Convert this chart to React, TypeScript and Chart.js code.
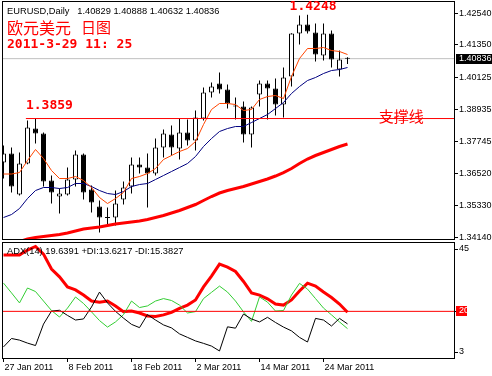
import React, { useEffect, useRef } from 'react';
import { Chart, registerables } from 'chart.js';

Chart.register(...registerables);

// ---------- texts ----------
const symbolTitle = 'EURUSD,Daily';
const chineseTitle = ['欧元美元', '日图'];
const timeStamp = '2011-3-29 11: 25';
const supportText = '支撑线';

// ---------- bars (trading days) ----------
const barDates = [
  '2011.01.27', '2011.01.28', '2011.01.31', '2011.02.01', '2011.02.02', '2011.02.03', '2011.02.04',
  '2011.02.07', '2011.02.08', '2011.02.09', '2011.02.10', '2011.02.11', '2011.02.14', '2011.02.15',
  '2011.02.16', '2011.02.17', '2011.02.18', '2011.02.21', '2011.02.22', '2011.02.23', '2011.02.24',
  '2011.02.25', '2011.02.28', '2011.03.01', '2011.03.02', '2011.03.03', '2011.03.04', '2011.03.07',
  '2011.03.08', '2011.03.09', '2011.03.10', '2011.03.11', '2011.03.14', '2011.03.15', '2011.03.16',
  '2011.03.17', '2011.03.18', '2011.03.21', '2011.03.22', '2011.03.23', '2011.03.24', '2011.03.25',
  '2011.03.28', '2011.03.29',
];

const openPrices = [
  1.36941, 1.37279, 1.35741, 1.36904, 1.38216, 1.38029, 1.36266, 1.35666, 1.35741, 1.36304, 1.37241,
  1.35929, 1.35291, 1.34879, 1.34879, 1.35554, 1.36041, 1.36866, 1.36754, 1.36529, 1.37504, 1.37991,
  1.37466, 1.38066, 1.37766, 1.38591, 1.39566, 1.39904, 1.39679, 1.39041, 1.39041, 1.37991, 1.39491,
  1.39904, 1.39716, 1.39116, 1.40166, 1.41779, 1.42116, 1.41816, 1.40954, 1.41779, 1.40429, 1.40829,
];
const highPrices = [
  1.37579, 1.37504, 1.37316, 1.38516, 1.38591, 1.38066, 1.36454, 1.35966, 1.36754, 1.37391, 1.37279,
  1.36079, 1.35516, 1.35254, 1.35891, 1.36229, 1.37129, 1.37129, 1.37279, 1.37841, 1.38179, 1.38329,
  1.38591, 1.38554, 1.38891, 1.39754, 1.39941, 1.40316, 1.39866, 1.39379, 1.39229, 1.39041, 1.40016,
  1.40016, 1.40091, 1.40504, 1.41790, 1.42454, 1.42480, 1.42154, 1.42154, 1.41891, 1.41141, 1.40888,
];
const lowPrices = [
  1.36341, 1.35816, 1.35704, 1.36880, 1.37654, 1.36041, 1.35404, 1.35029, 1.35704, 1.36041, 1.35554,
  1.35066, 1.34316, 1.34541, 1.34579, 1.35366, 1.35779, 1.36529, 1.35254, 1.36454, 1.37129, 1.37204,
  1.37054, 1.37579, 1.37391, 1.38516, 1.39379, 1.39529, 1.38966, 1.38554, 1.37691, 1.37504, 1.39041,
  1.38554, 1.38704, 1.38629, 1.39791, 1.41366, 1.41779, 1.40729, 1.40766, 1.40504, 1.40166, 1.40632,
];
const closePrices = [
  1.37279, 1.36041, 1.36904, 1.38254, 1.38029, 1.36229, 1.35816, 1.35779, 1.36304, 1.37241, 1.35816,
  1.35441, 1.34879, 1.34860, 1.35404, 1.36004, 1.36866, 1.36754, 1.36529, 1.37504, 1.38029, 1.37504,
  1.38066, 1.37766, 1.38629, 1.39566, 1.39791, 1.39679, 1.39154, 1.39050, 1.37991, 1.39004, 1.39904,
  1.39716, 1.39116, 1.40129, 1.41779, 1.42116, 1.41854, 1.40991, 1.41779, 1.40804, 1.40804, 1.40836,
];

// moving averages
const maFast = [
  1.36510, 1.36510, 1.36566, 1.37016, 1.37429, 1.37091, 1.36641, 1.36341, 1.36341, 1.36416, 1.36266,
  1.36004, 1.35629, 1.35404, 1.35591, 1.35816, 1.36341, 1.36416, 1.36529, 1.36716, 1.37054, 1.37204,
  1.37354, 1.37466, 1.37729, 1.38366, 1.38929, 1.39154, 1.39154, 1.39116, 1.38891, 1.38929, 1.39304,
  1.39416, 1.39454, 1.39341, 1.40166, 1.40841, 1.41216, 1.41216, 1.41254, 1.41141, 1.41104, 1.40991,
];
const maMid = [
  1.34879, 1.34991, 1.35216, 1.35591, 1.35891, 1.36004, 1.36004, 1.35966, 1.36004, 1.36154, 1.36154,
  1.36041, 1.35891, 1.35779, 1.35741, 1.35854, 1.36041, 1.36116, 1.36154, 1.36304, 1.36454, 1.36604,
  1.36754, 1.36904, 1.37166, 1.37541, 1.37841, 1.38104, 1.38216, 1.38291, 1.38291, 1.38441, 1.38591,
  1.38741, 1.38966, 1.39191, 1.39529, 1.39791, 1.40016, 1.40129, 1.40279, 1.40391, 1.40429, 1.40504,
];
const maSlow = [
  1.33829, 1.33904, 1.33979, 1.34072, 1.34129, 1.34166, 1.34204, 1.34241, 1.34297, 1.34372, 1.34447,
  1.34485, 1.34522, 1.34579, 1.34635, 1.34672, 1.34710, 1.34747, 1.34804, 1.34879, 1.34954, 1.35047,
  1.35141, 1.35254, 1.35366, 1.35516, 1.35666, 1.35797, 1.35891, 1.35966, 1.36041, 1.36135, 1.36229,
  1.36322, 1.36435, 1.36566, 1.36716, 1.36904, 1.37072, 1.37204, 1.37316, 1.37429, 1.37541, 1.37635,
];

// ADX(14)
const adxValues = [
  40.8, 40.8, 40.8, 42.6, 43.9, 41.1, 35.6, 32.7, 29.0, 27.9, 26.0, 23.8, 23.4, 23.8, 22.0, 19.9, 20.1,
  19.4, 18.3, 18.1, 18.7, 19.6, 21.1, 22.3, 24.2, 29.0, 33.0, 37.4, 36.3, 34.7, 31.0, 26.8, 26.0, 24.6,
  22.7, 22.3, 24.2, 27.5, 30.4, 29.3, 27.1, 25.1, 22.7, 19.6391,
];
const plusDI = [
  30.4, 26.8, 23.1, 28.6, 27.3, 23.8, 20.3, 17.9, 21.2, 25.3, 22.9, 19.8, 16.6, 14.2, 16.1, 18.8, 23.8,
  21.4, 22.0, 23.8, 24.7, 24.0, 22.3, 19.4, 19.9, 24.7, 27.0, 29.3, 27.1, 23.8, 19.8, 16.3, 25.3, 23.4,
  20.1, 20.3, 26.0, 30.3, 28.2, 24.7, 21.2, 18.7, 16.1, 13.6217,
];
const minusDI = [
  6.9, 10.0, 9.4, 8.3, 7.4, 15.3, 20.1, 20.4, 18.5, 16.8, 17.2, 21.6, 27.1, 23.1, 20.0, 17.5, 15.2,
  14.0, 18.8, 16.8, 15.0, 13.9, 11.7, 10.4, 9.1, 8.2, 7.2, 5.4, 14.3, 13.8, 19.0, 17.2, 16.1, 17.8,
  15.9, 14.2, 12.8, 10.4, 8.7, 17.4, 16.8, 14.6, 17.4, 15.3827,
];

// axes / levels
const priceTicks = [1.4254, 1.4135, 1.40125, 1.38935, 1.37745, 1.3652, 1.3533, 1.3414];
const adxTicks = [45, 20, 3];
const adxLevel = 20;
const dateTickIndex = [0, 8, 16, 24, 32, 40];
const dateTickLabels = ['27 Jan 2011', '8 Feb 2011', '18 Feb 2011', '2 Mar 2011', '14 Mar 2011', '24 Mar 2011'];
const supportLevel = 1.3859;
const supportStart = 2.8;
const supportTextX = 46.9;
const peakLevel = 1.4248;
const peakLabelX = 38.7;
const xMin = -0.1875;
const xMax = 56.3125;
const priceMin = 1.34073;
const priceMax = 1.42998;
const adxMin = 2.81;
const adxMax = 45.55;

const SANS = '"Liberation Sans", Arial, sans-serif';
const MONO = '"DejaVu Sans Mono", monospace';
const CJK = '"Noto Sans CJK SC", sans-serif';

const last = closePrices.length - 1;
const bidPrice = closePrices[last];
const idx = closePrices.map((_, i) => i);
const toPoints = (arr: number[]) => arr.map((v, i) => ({ x: i, y: v }));

const mainDecor = {
  id: 'mainDecor',
  afterDatasetsDraw(chart: any) {
    const { ctx, chartArea: a, scales } = chart;
    const xs = scales.x;
    const ys = scales.y;
    ctx.save();
    ctx.strokeStyle = '#000';
    ctx.lineWidth = 1;
    ctx.strokeRect(a.left + 0.5, a.top + 0.5, a.right - a.left, a.bottom - a.top);
    ctx.fillStyle = '#ff0000';
    ctx.font = `bold 13px ${MONO}`;
    ctx.textBaseline = 'middle';
    ctx.textAlign = 'left';
    const sy = ys.getPixelForValue(supportLevel);
    ctx.fillText(supportLevel.toFixed(4), xs.getPixelForValue(supportStart), sy - 13);
    ctx.textAlign = 'center';
    ctx.fillText(peakLevel.toFixed(4), xs.getPixelForValue(peakLabelX), ys.getPixelForValue(peakLevel) - 8);
    ctx.textAlign = 'left';
    ctx.font = `15px ${CJK}`;
    ctx.fillText(supportText, xs.getPixelForValue(supportTextX), sy - 1.8);
    const by = ys.getPixelForValue(bidPrice);
    ctx.fillStyle = '#000';
    ctx.fillRect(a.right + 2, Math.round(by) - 5, 36, 10);
    ctx.fillStyle = '#fff';
    ctx.font = `9px ${SANS}`;
    ctx.fillText(bidPrice.toFixed(5), a.right + 5, Math.round(by));
    ctx.restore();
  },
};

const adxDecor = {
  id: 'adxDecor',
  afterDatasetsDraw(chart: any) {
    const { ctx, chartArea: a, scales } = chart;
    const ys = scales.y;
    ctx.save();
    ctx.strokeStyle = '#000';
    ctx.lineWidth = 1;
    ctx.strokeRect(a.left + 0.5, a.top + 0.5, a.right - a.left, a.bottom - a.top);
    ctx.font = `9px ${SANS}`;
    ctx.textBaseline = 'middle';
    ctx.textAlign = 'left';
    adxTicks.forEach((v) => {
      const py = ys.getPixelForValue(v);
      const ly = Math.round(Math.min(Math.max(py, a.top + 6.5), a.bottom - 6));
      ctx.fillStyle = '#000';
      ctx.fillRect(a.right + 1, ly, 3, 1);
      if (v === adxLevel) {
        ctx.fillStyle = '#ff0000';
        ctx.fillRect(a.right + 2, ly - 5, 11, 10);
        ctx.fillStyle = '#fff';
      } else {
        ctx.fillStyle = '#000';
      }
      ctx.fillText(String(v), a.right + 5, ly);
    });
    ctx.restore();
  },
};

const lineDs = (data: any[], color: string, width: number, order: number) => ({
  type: 'line',
  data,
  borderColor: color,
  borderWidth: width,
  pointRadius: 0,
  pointHoverRadius: 0,
  tension: 0,
  fill: false,
  clip: 0,
  order,
});

export default function App() {
  const mainRef = useRef<HTMLCanvasElement>(null);
  const adxRef = useRef<HTMLCanvasElement>(null);

  useEffect(() => {
    const wickData = idx.map((i) => ({ x: i, y: [lowPrices[i], highPrices[i]] }));
    const bodyData = idx.map((i) => ({ x: i, y: [openPrices[i], closePrices[i]] }));
    const bodyColors = idx.map((i) => (closePrices[i] >= openPrices[i] ? '#ffffff' : '#000000'));

    const main = new Chart(mainRef.current as HTMLCanvasElement, {
      type: 'line',
      data: {
        datasets: [
          lineDs([{ x: xMin, y: bidPrice }, { x: xMax, y: bidPrice }], '#c0c0c0', 1, 6),
          {
            type: 'bar',
            data: wickData,
            backgroundColor: '#000000',
            borderWidth: 0,
            barThickness: 1,
            grouped: false,
            inflateAmount: 0,
            clip: 0,
            order: 5,
          },
          {
            type: 'bar',
            data: bodyData,
            backgroundColor: bodyColors,
            borderColor: '#000000',
            borderWidth: 1,
            borderSkipped: false,
            barThickness: 5,
            grouped: false,
            inflateAmount: 0,
            minBarLength: 1,
            clip: 0,
            order: 4,
          },
          lineDs(toPoints(maSlow), '#ff0000', 3, 3),
          lineDs(toPoints(maMid), '#000080', 1, 2),
          lineDs(toPoints(maFast), '#ff4500', 1, 1),
          lineDs([{ x: supportStart, y: supportLevel }, { x: xMax, y: supportLevel }], '#ff0000', 1, 0),
        ] as any,
      },
      options: {
        animation: false,
        responsive: false,
        maintainAspectRatio: false,
        events: [],
        layout: { autoPadding: false, padding: { left: 2, top: 1, right: 0, bottom: 1 } },
        plugins: { legend: { display: false }, tooltip: { enabled: false } },
        scales: {
          x: { type: 'linear', display: false, min: xMin, max: xMax, offset: false },
          y: {
            type: 'linear',
            position: 'right',
            min: priceMin,
            max: priceMax,
            afterBuildTicks: (s: any) => {
              s.ticks = priceTicks.map((v) => ({ value: v }));
            },
            afterFit: (s: any) => {
              s.width = 38;
              s.paddingTop = 0;
              s.paddingBottom = 0;
            },
            ticks: {
              autoSkip: false,
              padding: 1,
              color: '#000',
              font: { family: SANS, size: 9 },
              callback: (v: any) => Number(v).toFixed(5),
            },
            grid: { drawOnChartArea: false, drawTicks: true, tickLength: 4, color: '#000' },
            border: { display: false },
          },
        },
      } as any,
      plugins: [mainDecor],
    });

    const adx = new Chart(adxRef.current as HTMLCanvasElement, {
      type: 'line',
      data: {
        datasets: [
          lineDs(toPoints(adxValues), '#ff0000', 3, 3),
          lineDs(toPoints(plusDI), '#32cd32', 1, 2),
          lineDs(toPoints(minusDI), '#000000', 1, 1),
          lineDs([{ x: xMin, y: adxLevel }, { x: xMax, y: adxLevel }], '#ff0000', 1, 0),
        ] as any,
      },
      options: {
        animation: false,
        responsive: false,
        maintainAspectRatio: false,
        events: [],
        layout: { autoPadding: false, padding: { left: 2, top: 2, right: 0, bottom: 0 } },
        plugins: { legend: { display: false }, tooltip: { enabled: false } },
        scales: {
          x: {
            type: 'linear',
            position: 'bottom',
            min: xMin,
            max: xMax,
            offset: false,
            afterBuildTicks: (s: any) => {
              s.ticks = dateTickIndex.map((v) => ({ value: v }));
            },
            afterFit: (s: any) => {
              s.height = 18;
              s.paddingLeft = 0;
              s.paddingRight = 0;
            },
            ticks: {
              autoSkip: false,
              maxRotation: 0,
              minRotation: 0,
              align: 'start',
              padding: 0.5,
              labelOffset: 1,
              color: '#000',
              font: { family: SANS, size: 9 },
              callback: (_v: any, i: number) => dateTickLabels[i],
            },
            grid: { drawOnChartArea: false, drawTicks: true, tickLength: 4, color: '#000' },
            border: { display: false },
          },
          y: {
            type: 'linear',
            position: 'right',
            min: adxMin,
            max: adxMax,
            afterFit: (s: any) => {
              s.width = 38;
              s.paddingTop = 0;
              s.paddingBottom = 0;
            },
            ticks: { display: false },
            grid: { display: false },
            border: { display: false },
          },
        },
      } as any,
      plugins: [adxDecor],
    });

    return () => {
      main.destroy();
      adx.destroy();
    };
  }, []);

  const small: React.CSSProperties = {
    position: 'absolute',
    fontFamily: SANS,
    fontSize: 9.3,
    lineHeight: '10px',
    color: '#000',
    whiteSpace: 'pre',
  };
  const header = `${symbolTitle}   ${openPrices[last].toFixed(5)} ${highPrices[last].toFixed(5)} ${lowPrices[last].toFixed(5)} ${closePrices[last].toFixed(5)}`;
  const adxHeader = `ADX(14) ${adxValues[last].toFixed(4)} +DI:${plusDI[last].toFixed(4)} -DI:${minusDI[last].toFixed(4)}`;

  return (
    <div
      style={{
        position: 'fixed',
        left: 0,
        top: 0,
        width: 492,
        height: 376,
        background: '#ffffff',
        overflow: 'hidden',
      }}
    >
      <canvas ref={mainRef} width={492} height={240} style={{ position: 'absolute', left: 0, top: 0 }} />
      <canvas ref={adxRef} width={492} height={136} style={{ position: 'absolute', left: 0, top: 240 }} />
      <div style={{ ...small, left: 7, top: 6 }}>{header}</div>
      <div
        style={{
          position: 'absolute',
          left: 7,
          top: 18.5,
          fontFamily: CJK,
          fontSize: 16,
          lineHeight: '16px',
          color: '#ff0000',
          whiteSpace: 'pre',
        }}
      >
        {chineseTitle[0]}
      </div>
      <div
        style={{
          position: 'absolute',
          left: 81,
          top: 18.5,
          fontFamily: CJK,
          fontSize: 15,
          lineHeight: '16px',
          color: '#ff0000',
          whiteSpace: 'pre',
        }}
      >
        {chineseTitle[1]}
      </div>
      <div
        style={{
          position: 'absolute',
          left: 7,
          top: 37,
          fontFamily: MONO,
          fontWeight: 'bold',
          fontSize: 13,
          lineHeight: '13px',
          color: '#ff0000',
          whiteSpace: 'pre',
        }}
      >
        {timeStamp}
      </div>
      <div style={{ ...small, left: 7, top: 246.4 }}>{adxHeader}</div>
    </div>
  );
}
